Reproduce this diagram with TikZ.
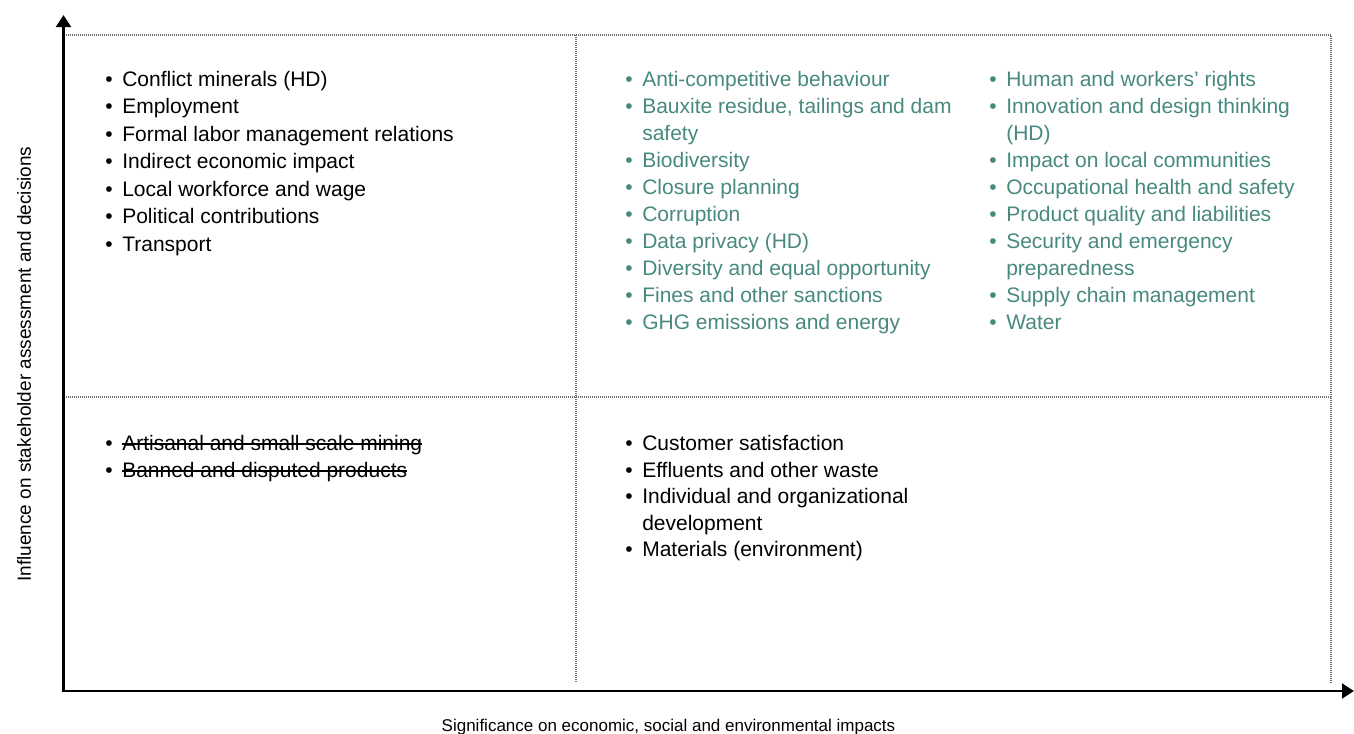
\documentclass[tikz,border=0pt]{standalone}
\usepackage{fontspec}
\setmainfont{Liberation Sans}
\usetikzlibrary{positioning, arrows.meta}
\definecolor{clrgreen}{HTML}{47897E}
\definecolor{clrtext}{HTML}{000000}
\definecolor{clrgrid}{HTML}{6E6E6E}
\newcommand{\itemlist}[1]{\begin{tabular}[t]{@{}p{12.75pt}@{}l@{}}#1\end{tabular}}
\newsavebox{\strikebox}
\newcommand{\struck}[1]{\sbox{\strikebox}{#1}\rlap{\rule[0.5ex]{\wd\strikebox}{1.1pt}}\usebox{\strikebox}}

\begin{document}
\begin{tikzpicture}[
    x=0.75pt, y=-0.75pt,
    axis/.style={line width=2.2pt, color=clrtext, -{Triangle[length=9pt, width=11pt]}},
    grid/.style={draw=clrgrid, line width=0.9pt, dash pattern=on 0.75pt off 0.75pt},
    list/.style={anchor=base west, inner sep=0pt, text=clrtext,
                 font=\fontsize{15.75pt}{20.25pt}\selectfont},
    axislabel/.style={anchor=base, inner sep=0pt, text=clrtext,
                      font=\fontsize{12.75pt}{15pt}\selectfont},
]
\useasboundingbox (0,0) rectangle (1354,733);
% quadrant grid
\coordinate (c_tl) at (63.5,35);
\coordinate (c_tm) at (576,35);
\coordinate (c_tr) at (1331,35);
\coordinate (c_ml) at (63.5,397);
\coordinate (c_mr) at (1331,397);
\coordinate (c_bm) at (576,682);
\coordinate (c_br) at (1331,682);
\draw[grid] (c_tl) -- (c_tr) -- (c_br);
\draw[grid] (c_tm) -- (c_bm);
\draw[grid] (c_ml) -- (c_mr);
% axes
\coordinate (o) at (63.5,691);
\coordinate (y_tip) at (63.5,15);
\coordinate (x_tip) at (1354,691);
\draw[axis] (o) -- (y_tip);
\draw[axis] ([xshift=-1.1pt]o) -- (x_tip);
\node[axislabel, rotate=90, font=\fontsize{14.25pt}{16pt}\selectfont] (y_label) at (31,364) {Influence on stakeholder assessment and decisions};
\node[axislabel] (x_label) at (668.5,731) {Significance on economic, social and environmental impacts};
% top left
\node[list, font=\fontsize{15.75pt}{20.6pt}\selectfont] (n_tl) at (105,86.5) {\itemlist{
    • & Conflict minerals (HD)\\
    • & Employment\\
    • & Formal labor management relations\\
    • & Indirect economic impact\\
    • & Local workforce and wage\\
    • & Political contributions\\
    • & Transport}};
% top right
\node[list, text=clrgreen] (n_tr1) at (625,86) {\itemlist{
    • & Anti-competitive behaviour\\
    • & Bauxite residue, tailings and dam\\
      & safety\\
    • & Biodiversity\\
    • & Closure planning\\
    • & Corruption\\
    • & Data privacy (HD)\\
    • & Diversity and equal opportunity\\
    • & Fines and other sanctions\\
    • & GHG emissions and energy}};
\node[list, text=clrgreen] (n_tr2) at (989,86) {\itemlist{
    • & Human and workers’ rights\\
    • & Innovation and design thinking\\
      & (HD)\\
    • & Impact on local communities\\
    • & Occupational health and safety\\
    • & Product quality and liabilities\\
    • & Security and emergency\\
      & preparedness\\
    • & Supply chain management\\
    • & Water}};
% bottom left
\node[list] (n_bl) at (105,450.5) {\itemlist{
    • & \struck{Artisanal and small scale mining}\\
    • & \struck{Banned and disputed products}}};
% bottom right
\node[list, font=\fontsize{15.75pt}{19.9pt}\selectfont] (n_br) at (625,450.5) {\itemlist{
    • & Customer satisfaction\\
    • & Effluents and other waste\\
    • & Individual and organizational\\
      & development\\
    • & Materials (environment)}};
\end{tikzpicture}
\end{document}
